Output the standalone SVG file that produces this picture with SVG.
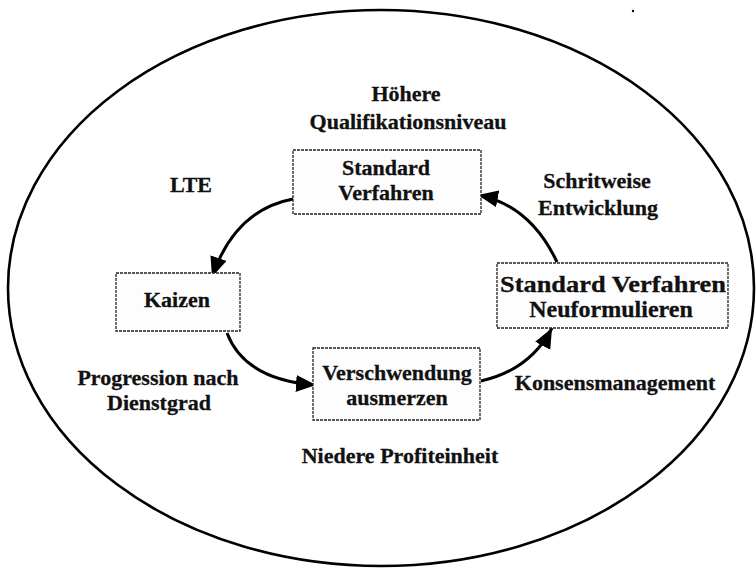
<svg xmlns="http://www.w3.org/2000/svg" width="756" height="568" viewBox="0 0 756 568">
<style>
text{font-family:"Liberation Serif","Times New Roman",serif;font-weight:bold;font-size:22px;fill:#111;text-anchor:middle;stroke:#111;stroke-width:0.3}
.big{font-size:24px}
.box{fill:#fdfdfd;stroke:#222;stroke-width:1.3;stroke-dasharray:3 1}
.conn{fill:none;stroke:#000;stroke-width:3}
</style>
<defs>
<marker id="ah" markerUnits="userSpaceOnUse" markerWidth="22" markerHeight="18" refX="20" refY="8.5" orient="auto">
<path d="M0,0 L20,8.5 L0,17 z" fill="#000"/>
</marker>
</defs>
<rect width="756" height="568" fill="#fff"/>
<ellipse id="outer" cx="381" cy="288" rx="373" ry="278" fill="none" stroke="#000" stroke-width="2.6"/>
<circle cx="633" cy="11" r="1.2" fill="#000"/>
<g id="connectors">
<path class="conn" d="M293,199 Q235,210 212,277" marker-end="url(#ah)"/>
<path class="conn" d="M227,333 Q245,380 316,385" marker-end="url(#ah)"/>
<path class="conn" d="M481,381 Q530,370 552,328" marker-end="url(#ah)"/>
<path class="conn" d="M557,262 Q530,205 478,195" marker-end="url(#ah)"/>
</g>
<g id="node-standard">
<rect class="box" x="293" y="150" width="188" height="64"/>
<text x="386" y="175">Standard</text>
<text x="386" y="200">Verfahren</text>
</g>
<g id="node-kaizen">
<rect class="box" x="116" y="273" width="124" height="58"/>
<text x="177" y="307">Kaizen</text>
</g>
<g id="node-verschwendung">
<rect class="box" x="313" y="348" width="167" height="72"/>
<text x="397" y="380">Verschwendung</text>
<text x="397" y="405">ausmerzen</text>
</g>
<g id="node-neuformulieren">
<rect class="box" x="497" y="263" width="231" height="65"/>
<text class="big" x="613" y="292" textLength="226" lengthAdjust="spacingAndGlyphs">Standard Verfahren</text>
<text class="big" x="611" y="317">Neuformulieren</text>
</g>
<g id="labels">
<text x="406" y="101">Höhere</text>
<text x="408" y="129">Qualifikationsniveau</text>
<text x="191" y="192">LTE</text>
<text x="597" y="188">Schritweise</text>
<text x="598" y="215">Entwicklung</text>
<text x="158" y="385">Progression nach</text>
<text x="159" y="410">Dienstgrad</text>
<text x="615" y="390">Konsensmanagement</text>
<text x="400" y="463">Niedere Profiteinheit</text>
</g>
</svg>
